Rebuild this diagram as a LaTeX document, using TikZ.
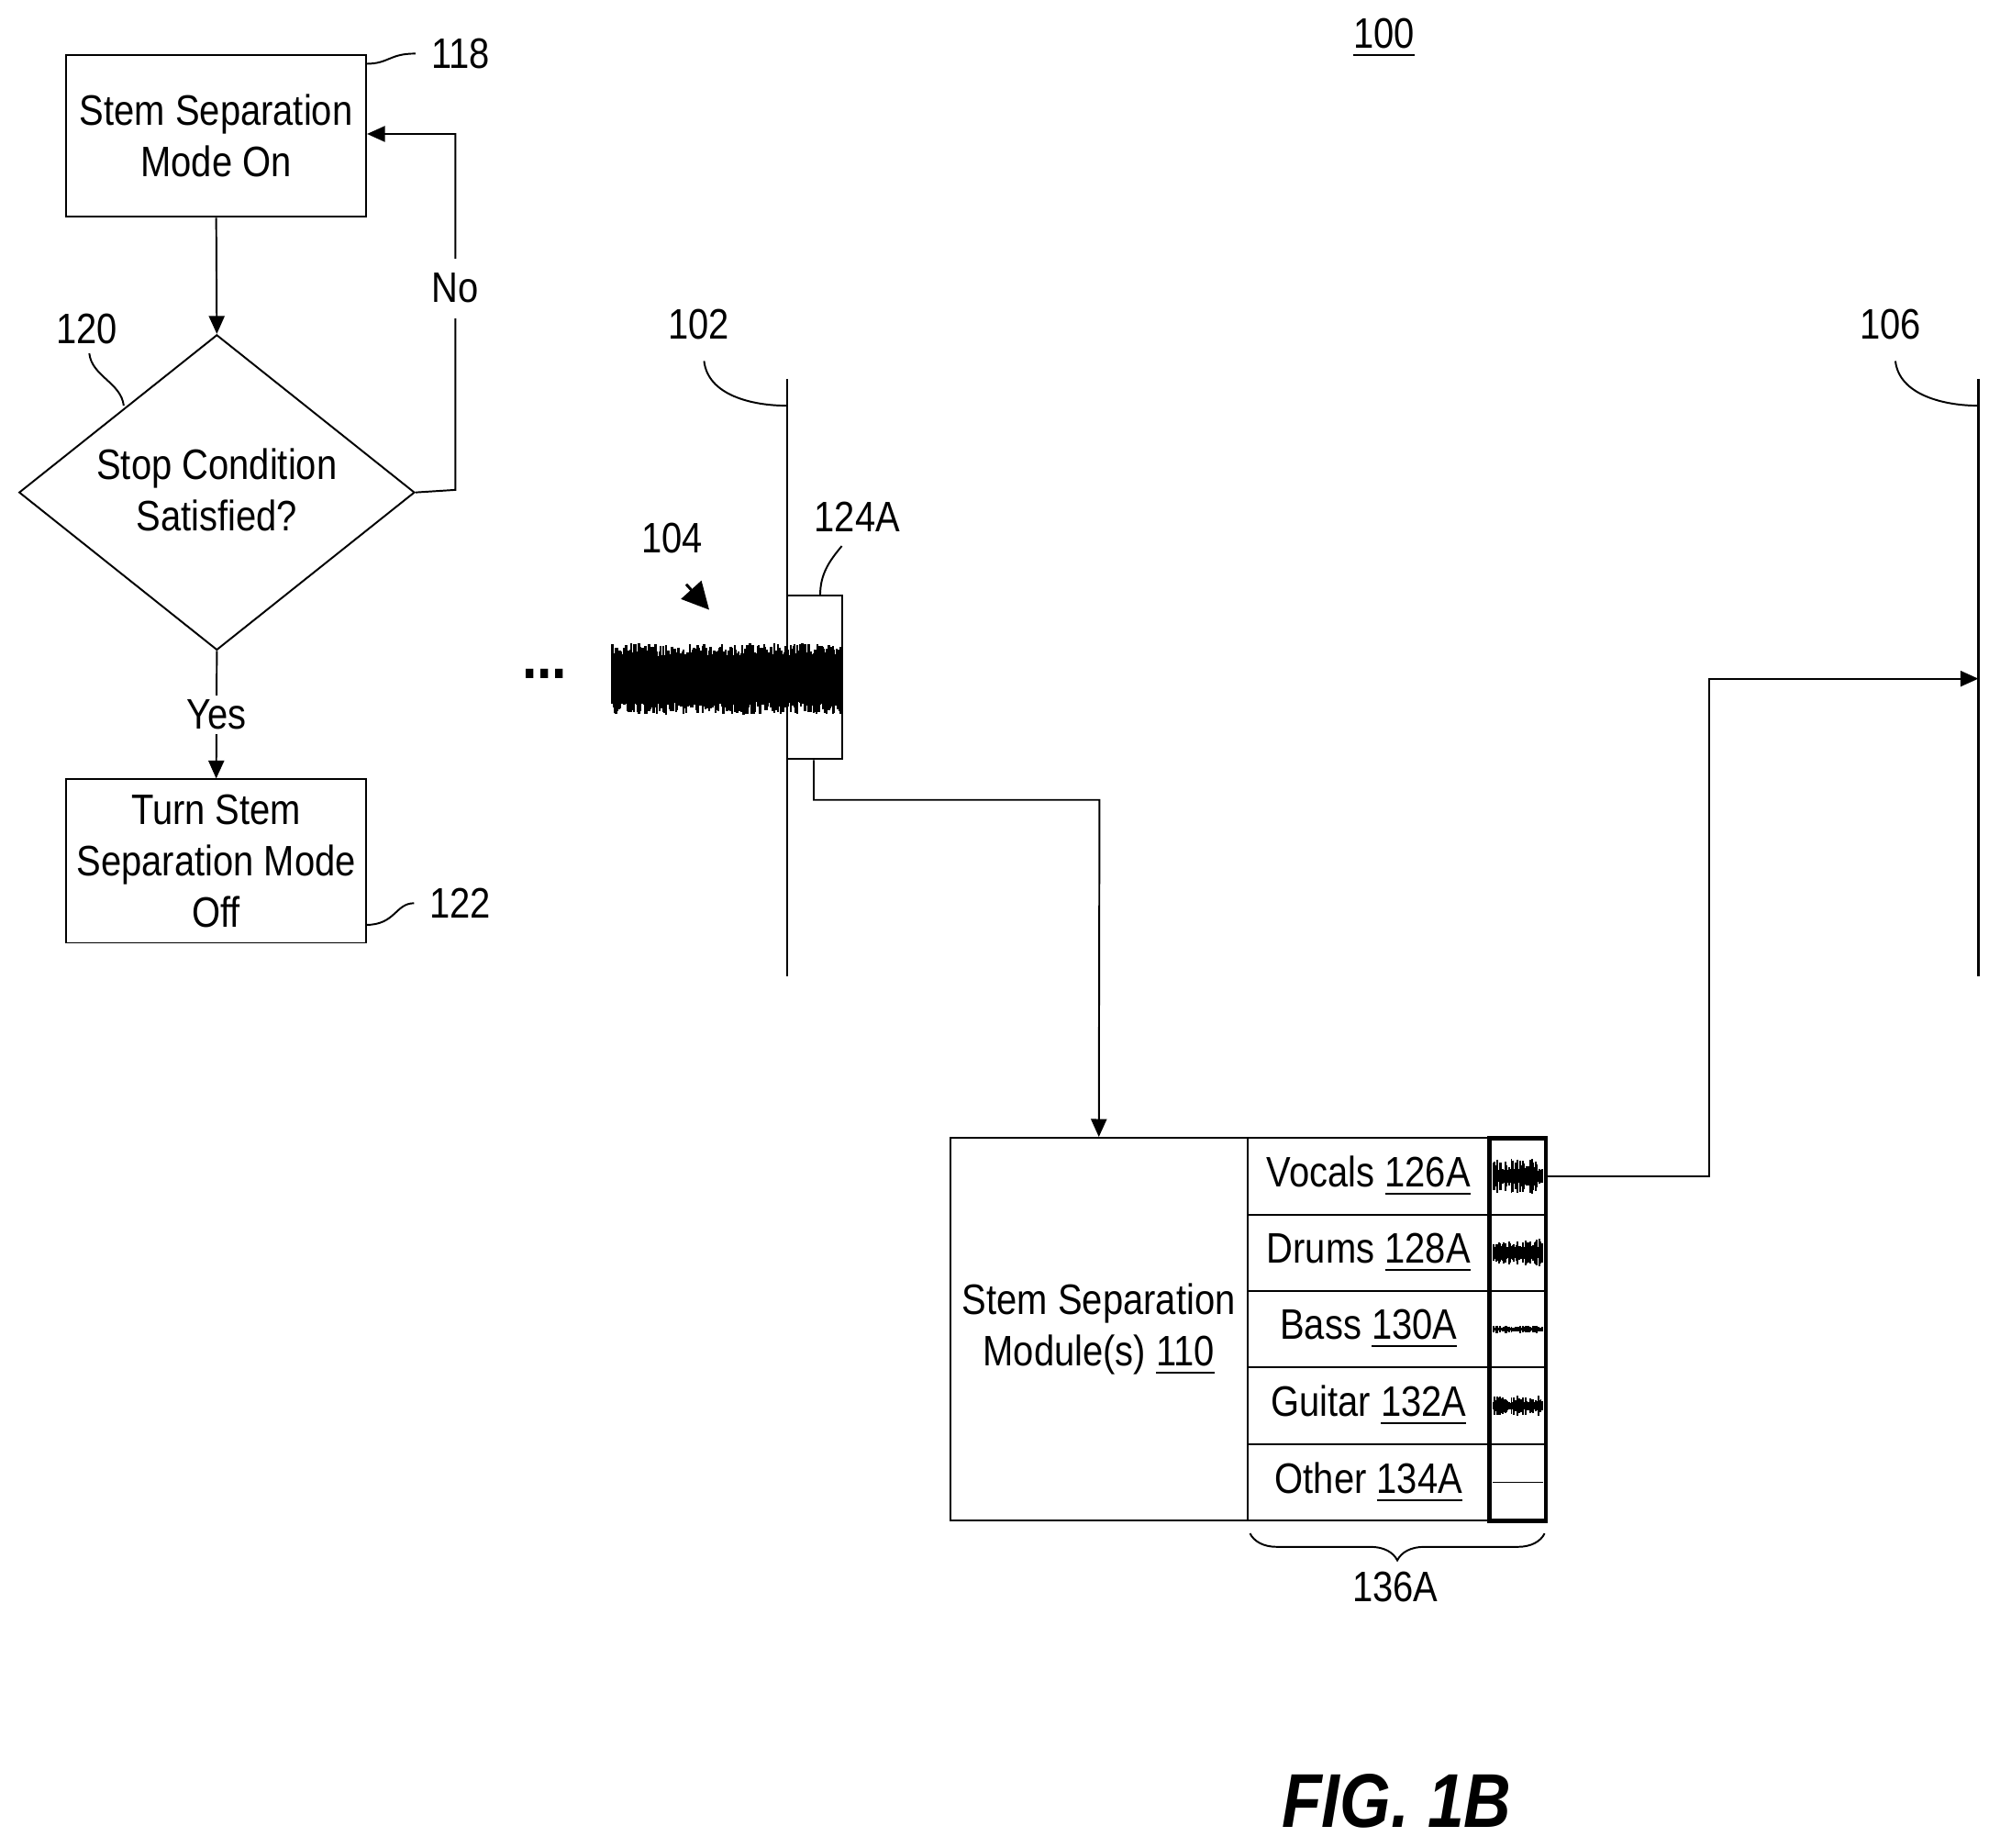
\documentclass[tikz,border=0pt]{standalone}
\usepackage{fontspec}
\setmainfont{Liberation Sans}[FakeStretch=0.86]
\usetikzlibrary{arrows.meta,decorations.pathreplacing,shapes.geometric}
\begin{document}
\begin{tikzpicture}[x=0.01cm,y=-0.01cm,font=\fontsize{9.5}{11.5}\selectfont,
  box/.style={draw,line width=0.4pt,inner sep=0},
  con/.style={line width=0.4pt,-{Triangle[length=4pt,width=3.5pt]}},
  lead/.style={line width=0.4pt}]
\useasboundingbox (0,0) rectangle (1568,1448);
\pgfmathsetseed{7}
\node at (1085,30) {\underline{100}};
% flowchart
\node[box,minimum width=2.35cm,minimum height=1.27cm,align=center] (s118) at (169.5,106.5) {Stem Separation\\Mode On};
\node[draw,diamond,aspect=1.27,minimum width=3.1cm,minimum height=2.47cm,inner sep=0,align=center,line width=0.4pt] (d120) at (170,386) {};
\node[align=center] at (170,384) {Stop Condition\\Satisfied?};
\node[box,minimum width=2.35cm,minimum height=1.28cm,align=center] (s122) at (169.5,675) {Turn Stem\\Separation Mode\\Off};
\draw[con] (s118.south) -- (d120.north);
\coordinate (n1) at (357,384); \coordinate (n2) at (357,105);
\draw[con] (d120.east) -- (n1) -- (n2) -- (s118.east |- n2);
\node[fill=white] at (357,226) {No};
\draw[con] (d120.south) -- (s122.north) node[midway,fill=white,inner sep=1pt] {Yes};
\node (l118) at (361,42) {118};
\draw[lead] (287,50) .. controls (305,50) and (305,42) .. (l118.west);
\node (l120) at (68,258) {120};
\draw[lead] (70,277) .. controls (72,295) and (95,300) .. (97,318);
\node (l122) at (361,708) {122};
\draw[lead] (287,725) .. controls (310,725) and (310,708) .. (l122.west);
% timeline 102
\coordinate (t1a) at (617,297); \coordinate (t1b) at (617,765);
\draw[line width=0.5pt] (t1a) -- (t1b);
\node (l102) at (548,254) {102};
\draw[lead] (552,283) .. controls (555,310) and (590,318) .. (t1a |- 0,318);
\node[font=\fontsize{14}{14}\selectfont\bfseries] at (427,528) {...};
% waveform
\foreach \x in {480,481,...,660}{
  \pgfmathsetmacro{\a}{18+10*rnd}
  \pgfmathsetmacro{\b}{18+10*rnd}
  \draw[line width=0.5pt] (\x,532-\a) -- (\x,532+\b);}
\node[box,fill=none,minimum width=0.43cm,minimum height=1.28cm] (b124) at (638.5,531) {};
\node (l124) at (672,405) {124A};
\draw[lead] (643,467) .. controls (643,450) and (650,440) .. (660,428);
\node (l104) at (527,422) {104};
\draw[line width=0.6pt,-{Triangle[length=6pt,width=6pt]}] (538,458) -- (556,478);
% module
\node[box,minimum width=2.33cm,minimum height=3cm,align=center] (m110) at (861.5,1042) {Stem Separation\\Module(s) \underline{110}};
\coordinate (c1) at (638,627); \coordinate (c2) at (862,627);
\draw[con] (b124.south -| c1) -- (c1) -- (c2) -- (m110.north);
\foreach \t/\n [count=\i from 0] in {Vocals/126A,Drums/128A,Bass/130A,Guitar/132A,Other/134A}{
  \node[draw,line width=0.4pt,minimum width=1.9cm,minimum height=0.6cm,inner sep=0] (r\i) at (1073,922+60*\i) {\t\ \underline{\n}};
  \node[draw,line width=0.4pt,minimum width=0.44cm,minimum height=0.6cm,inner sep=0] (w\i) at (1190,922+60*\i) {};
}
\draw[line width=1pt] (1168,892) rectangle (1212,1192);
% icon waveforms
\foreach \i/\amp in {0/14,1/12,2/3,3/8,4/0.5}{
  \foreach \x in {1171,1172,...,1209}{
    \pgfmathsetmacro{\a}{\amp*(0.3+0.7*rnd)}
    \draw[line width=0.4pt] (\x,922+60*\i-\a) -- (\x,922+60*\i+\a);}}
% timeline 106
\coordinate (t2a) at (1551,297); \coordinate (t2b) at (1551,765);
\draw[line width=0.5pt] (t2a) -- (t2b);
\node (l106) at (1482,254) {106};
\draw[lead] (1486,283) .. controls (1489,310) and (1525,318) .. (t2a |- 0,318);
\coordinate (d1) at (1340,922); \coordinate (d2) at (1340,532); \coordinate (d3) at (1551,532);
\draw[con] (w0.east) -- (d1) -- (d2) -- (d3);
\draw[line width=0.4pt,decorate,decoration={brace,mirror,amplitude=6pt}] (980,1202) -- (1211,1202);
\node at (1094,1244) {136A};
\node[font=\fontsize{17}{17}\selectfont\bfseries\itshape] at (1095,1412) {FIG. 1B};
\end{tikzpicture}
\end{document}
